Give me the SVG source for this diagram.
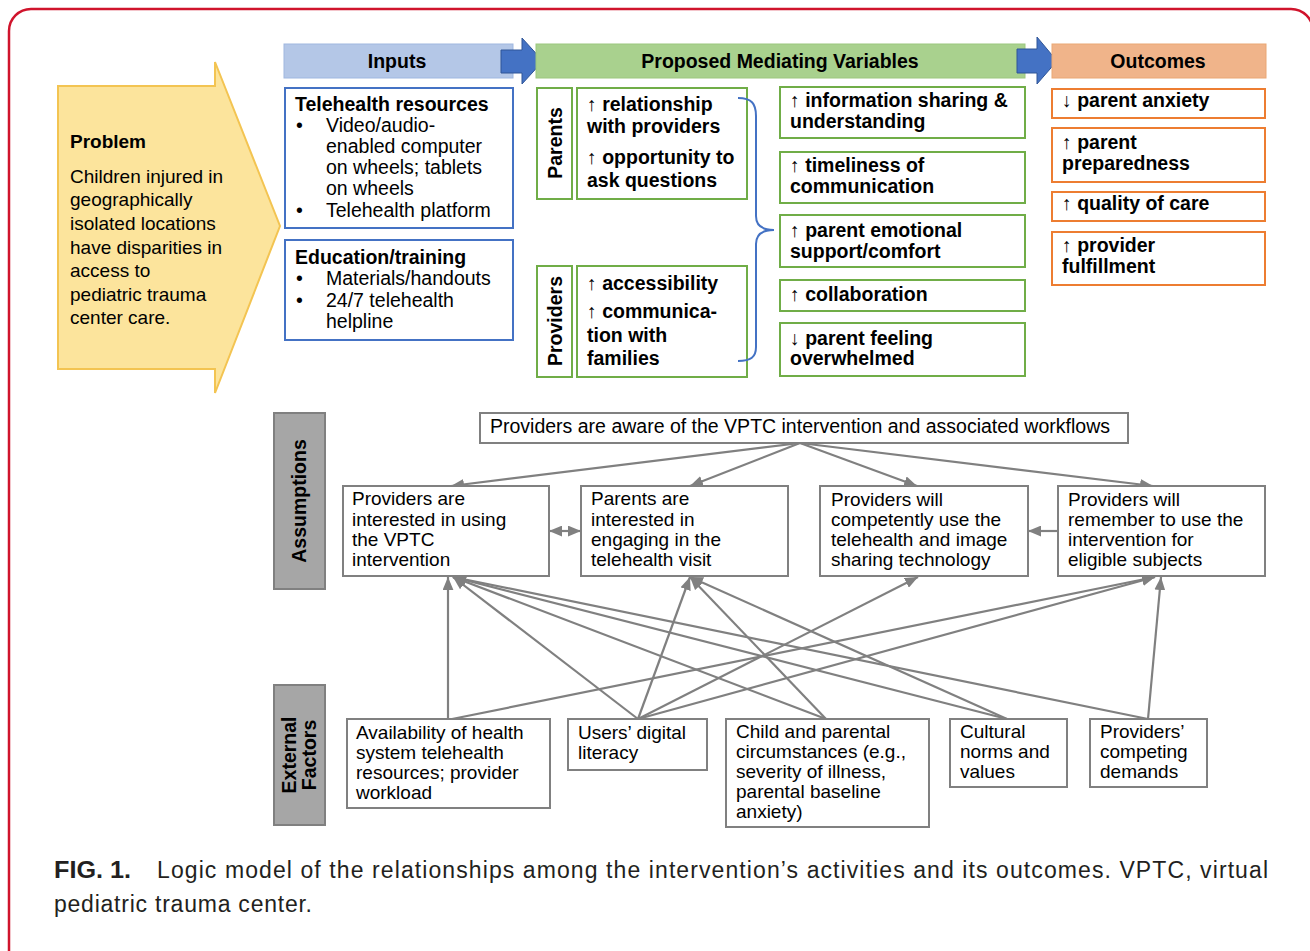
<svg xmlns="http://www.w3.org/2000/svg" width="1310" height="951" viewBox="0 0 1310 951">
<defs>
<style>
.t{font-family:"Liberation Sans",Arial,"DejaVu Sans",sans-serif;font-size:19.5px;fill:#000}
.b{font-weight:bold}
.pb{font-size:19px}
.s{font-size:19px}
.cap{font-family:"Liberation Sans",Arial,sans-serif;font-size:23px;fill:#231f20}
.inbox{fill:#fff;stroke:#4472c4;stroke-width:2}
.gbox{fill:#fff;stroke:#70ad47;stroke-width:2}
.obox{fill:#fff;stroke:#ed7d31;stroke-width:2}
.abox{fill:#fff;stroke:#808080;stroke-width:2}
.lab{fill:#a6a6a6;stroke:#808080;stroke-width:2}
.con line{stroke:#808080;stroke-width:2.2;fill:none}
.harrow{fill:#4472c4;stroke:#2f5597;stroke-width:1}
</style>
<marker id="ah" viewBox="0 0 12 10" refX="12" refY="5" markerWidth="13" markerHeight="11" markerUnits="userSpaceOnUse" orient="auto-start-reverse">
<path d="M0,0 L12,5 L0,10 z" fill="#808080"/>
</marker>
</defs>
<rect width="1310" height="951" fill="#fff"/>
<rect x="9" y="9" width="1304" height="1000" rx="22" fill="none" stroke="#d0142c" stroke-width="2.5"/>

<g id="problem">
<polygon points="58,86 215,86 215,62 280,226 215,393 215,369 58,369" fill="#fce49c" stroke="#f3c452" stroke-width="2"/>
<text class="t b pb" x="70" y="148">Problem</text>
<text class="t pb" x="70" y="183">Children injured in</text>
<text class="t pb" x="70" y="206">geographically</text>
<text class="t pb" x="70" y="230">isolated locations</text>
<text class="t pb" x="70" y="254">have disparities in</text>
<text class="t pb" x="70" y="277">access to</text>
<text class="t pb" x="70" y="301">pediatric trauma</text>
<text class="t pb" x="70" y="324">center care.</text>
</g>

<g id="inputs-header">
<rect x="284" y="44" width="229" height="34" fill="#b4c7e7" stroke="#9fb7e0" stroke-width="1"/>
<text class="t b" x="397" y="68" text-anchor="middle">Inputs</text>
</g>
<g id="arrow-inputs-mediating">
<polygon class="harrow" points="501,50 522,50 522,38 543,61 522,84 522,73 501,73"/>
</g>
<g id="mediating-header">
<rect x="536" y="44" width="489" height="34" fill="#a9d18e" stroke="#9cc77f" stroke-width="1"/>
<text class="t b" x="780" y="68" text-anchor="middle">Proposed Mediating Variables</text>
</g>
<g id="arrow-mediating-outcomes">
<polygon class="harrow" points="1017,49 1037,49 1037,37 1057,61 1037,84 1037,73 1017,73"/>
</g>
<g id="outcomes-header">
<rect x="1052" y="44" width="214" height="34" fill="#f0b48a" stroke="#eaa775" stroke-width="1"/>
<text class="t b" x="1158" y="68" text-anchor="middle">Outcomes</text>
</g>

<g id="telehealth-resources">
<rect class="inbox" x="285" y="88" width="228" height="140"/>
<text class="t b" x="295" y="111">Telehealth resources</text>
<text class="t" x="296" y="132">•</text>
<text class="t" x="326" y="132">Video/audio-</text>
<text class="t" x="326" y="153">enabled computer</text>
<text class="t" x="326" y="174">on wheels; tablets</text>
<text class="t" x="326" y="195">on wheels</text>
<text class="t" x="296" y="217">•</text>
<text class="t" x="326" y="217">Telehealth platform</text>
</g>
<g id="education-training">
<rect class="inbox" x="285" y="240" width="228" height="100"/>
<text class="t b" x="295" y="264">Education/training</text>
<text class="t" x="296" y="285">•</text>
<text class="t" x="326" y="285">Materials/handouts</text>
<text class="t" x="296" y="307">•</text>
<text class="t" x="326" y="307">24/7 telehealth</text>
<text class="t" x="326" y="328">helpline</text>
</g>

<g id="parents-label">
<rect class="gbox" x="537" y="88" width="35" height="111"/>
<text class="t b" transform="translate(562,143) rotate(-90)" text-anchor="middle">Parents</text>
</g>
<g id="parents-items">
<rect class="gbox" x="577" y="88" width="170" height="111"/>
<text class="t b" x="587" y="111">↑ relationship</text>
<text class="t b" x="587" y="133">with providers</text>
<text class="t b" x="587" y="164">↑ opportunity to</text>
<text class="t b" x="587" y="187">ask questions</text>
</g>
<g id="providers-label">
<rect class="gbox" x="537" y="266" width="35" height="111"/>
<text class="t b" transform="translate(562,321) rotate(-90)" text-anchor="middle">Providers</text>
</g>
<g id="providers-items">
<rect class="gbox" x="577" y="266" width="170" height="111"/>
<text class="t b" x="587" y="290">↑ accessibility</text>
<text class="t b" x="587" y="318">↑ communica-</text>
<text class="t b" x="587" y="342">tion with</text>
<text class="t b" x="587" y="365">families</text>
</g>
<g id="brace">
<path d="M738,98 C752,98 756,104 756,116 L756,216 C756,225 762,230 774,230 C762,230 756,235 756,244 L756,347 C756,357 751,361 738,361" fill="none" stroke="#4472c4" stroke-width="2"/>
</g>

<g id="mv-information">
<rect class="gbox" x="780" y="87" width="245" height="51"/>
<text class="t b" x="790" y="107">↑ information sharing &amp;</text>
<text class="t b" x="790" y="128">understanding</text>
</g>
<g id="mv-timeliness">
<rect class="gbox" x="780" y="152" width="245" height="51"/>
<text class="t b" x="790" y="172">↑ timeliness of</text>
<text class="t b" x="790" y="193">communication</text>
</g>
<g id="mv-emotional">
<rect class="gbox" x="780" y="215" width="245" height="52"/>
<text class="t b" x="790" y="237">↑ parent emotional</text>
<text class="t b" x="790" y="258">support/comfort</text>
</g>
<g id="mv-collaboration">
<rect class="gbox" x="780" y="280" width="245" height="31"/>
<text class="t b" x="790" y="301">↑ collaboration</text>
</g>
<g id="mv-overwhelmed">
<rect class="gbox" x="780" y="323" width="245" height="53"/>
<text class="t b" x="790" y="345">↓ parent feeling</text>
<text class="t b" x="790" y="365">overwhelmed</text>
</g>

<g id="out-anxiety">
<rect class="obox" x="1052" y="89" width="213" height="29"/>
<text class="t b" x="1062" y="107">↓ parent anxiety</text>
</g>
<g id="out-preparedness">
<rect class="obox" x="1052" y="128" width="213" height="54"/>
<text class="t b" x="1062" y="149">↑ parent</text>
<text class="t b" x="1062" y="170">preparedness</text>
</g>
<g id="out-quality">
<rect class="obox" x="1052" y="192" width="213" height="29"/>
<text class="t b" x="1062" y="210">↑ quality of care</text>
</g>
<g id="out-fulfillment">
<rect class="obox" x="1052" y="232" width="213" height="53"/>
<text class="t b" x="1062" y="252">↑ provider</text>
<text class="t b" x="1062" y="273">fulfillment</text>
</g>

<g id="assumptions-label">
<rect class="lab" x="274" y="413" width="51" height="176"/>
<text class="t b" transform="translate(306,501) rotate(-90)" text-anchor="middle">Assumptions</text>
</g>
<g id="external-label">
<rect class="lab" x="274" y="685" width="51" height="140"/>
<text class="t b" transform="translate(296,755) rotate(-90)" text-anchor="middle"><tspan x="0" y="0">External</tspan><tspan x="0" y="20">Factors</tspan></text>
</g>

<g id="connectors" class="con">
<line x1="800" y1="443" x2="451" y2="486" marker-end="url(#ah)"/>
<line x1="800" y1="443" x2="690" y2="486" marker-end="url(#ah)"/>
<line x1="800" y1="443" x2="917" y2="486" marker-end="url(#ah)"/>
<line x1="800" y1="443" x2="1153" y2="486" marker-end="url(#ah)"/>
<line x1="549" y1="531" x2="581" y2="531" marker-start="url(#ah)" marker-end="url(#ah)"/>
<line x1="1058" y1="531" x2="1028" y2="531" marker-end="url(#ah)"/>
<line x1="448" y1="719" x2="448" y2="577" marker-end="url(#ah)"/>
<line x1="452" y1="719" x2="1155" y2="577" marker-end="url(#ah)"/>
<line x1="638" y1="719" x2="453" y2="577" marker-end="url(#ah)"/>
<line x1="638" y1="719" x2="690" y2="577" marker-end="url(#ah)"/>
<line x1="638" y1="719" x2="918" y2="577" marker-end="url(#ah)"/>
<line x1="638" y1="719" x2="1155" y2="577" marker-end="url(#ah)"/>
<line x1="826" y1="719" x2="453" y2="577" marker-end="url(#ah)"/>
<line x1="826" y1="719" x2="690" y2="577" marker-end="url(#ah)"/>
<line x1="1007" y1="719" x2="453" y2="577" marker-end="url(#ah)"/>
<line x1="1007" y1="719" x2="690" y2="577" marker-end="url(#ah)"/>
<line x1="1148" y1="719" x2="453" y2="577" marker-end="url(#ah)"/>
<line x1="1148" y1="719" x2="1161" y2="577" marker-end="url(#ah)"/>
</g>

<g id="aware">
<rect class="abox" x="480" y="413" width="648" height="30"/>
<text class="t" x="490" y="433">Providers are aware of the VPTC intervention and associated workflows</text>
</g>
<g id="as-providers-interested">
<rect class="abox" x="343" y="486" width="206" height="90"/>
<text class="t s" x="352" y="505">Providers are</text>
<text class="t s" x="352" y="526">interested in using</text>
<text class="t s" x="352" y="546">the VPTC</text>
<text class="t s" x="352" y="566">intervention</text>
</g>
<g id="as-parents-interested">
<rect class="abox" x="581" y="486" width="207" height="90"/>
<text class="t s" x="591" y="505">Parents are</text>
<text class="t s" x="591" y="526">interested in</text>
<text class="t s" x="591" y="546">engaging in the</text>
<text class="t s" x="591" y="566">telehealth visit</text>
</g>
<g id="as-competently">
<rect class="abox" x="820" y="486" width="208" height="90"/>
<text class="t s" x="831" y="506">Providers will</text>
<text class="t s" x="831" y="526">competently use the</text>
<text class="t s" x="831" y="546">telehealth and image</text>
<text class="t s" x="831" y="566">sharing technology</text>
</g>
<g id="as-remember">
<rect class="abox" x="1058" y="486" width="207" height="90"/>
<text class="t s" x="1068" y="506">Providers will</text>
<text class="t s" x="1068" y="526">remember to use the</text>
<text class="t s" x="1068" y="546">intervention for</text>
<text class="t s" x="1068" y="566">eligible subjects</text>
</g>

<g id="ef-availability">
<rect class="abox" x="347" y="719" width="203" height="89"/>
<text class="t s" x="356" y="739">Availability of health</text>
<text class="t s" x="356" y="759">system telehealth</text>
<text class="t s" x="356" y="779">resources; provider</text>
<text class="t s" x="356" y="799">workload</text>
</g>
<g id="ef-literacy">
<rect class="abox" x="568" y="719" width="139" height="51"/>
<text class="t s" x="578" y="739">Users’ digital</text>
<text class="t s" x="578" y="759">literacy</text>
</g>
<g id="ef-circumstances">
<rect class="abox" x="726" y="719" width="203" height="108"/>
<text class="t s" x="736" y="738">Child and parental</text>
<text class="t s" x="736" y="758">circumstances (e.g.,</text>
<text class="t s" x="736" y="778">severity of illness,</text>
<text class="t s" x="736" y="798">parental baseline</text>
<text class="t s" x="736" y="818">anxiety)</text>
</g>
<g id="ef-cultural">
<rect class="abox" x="950" y="719" width="117" height="68"/>
<text class="t s" x="960" y="738">Cultural</text>
<text class="t s" x="960" y="758">norms and</text>
<text class="t s" x="960" y="778">values</text>
</g>
<g id="ef-competing">
<rect class="abox" x="1090" y="719" width="117" height="68"/>
<text class="t s" x="1100" y="738">Providers’</text>
<text class="t s" x="1100" y="758">competing</text>
<text class="t s" x="1100" y="778">demands</text>
</g>

<g id="caption">
<text class="cap" x="54" y="878" font-weight="bold" textLength="77" lengthAdjust="spacingAndGlyphs">FIG. 1.</text>
<text class="cap" x="157" y="878" textLength="1111" lengthAdjust="spacing">Logic model of the relationships among the intervention’s activities and its outcomes. VPTC, virtual</text>
<text class="cap" x="54" y="912" textLength="258" lengthAdjust="spacing">pediatric trauma center.</text>
</g>
</svg>
